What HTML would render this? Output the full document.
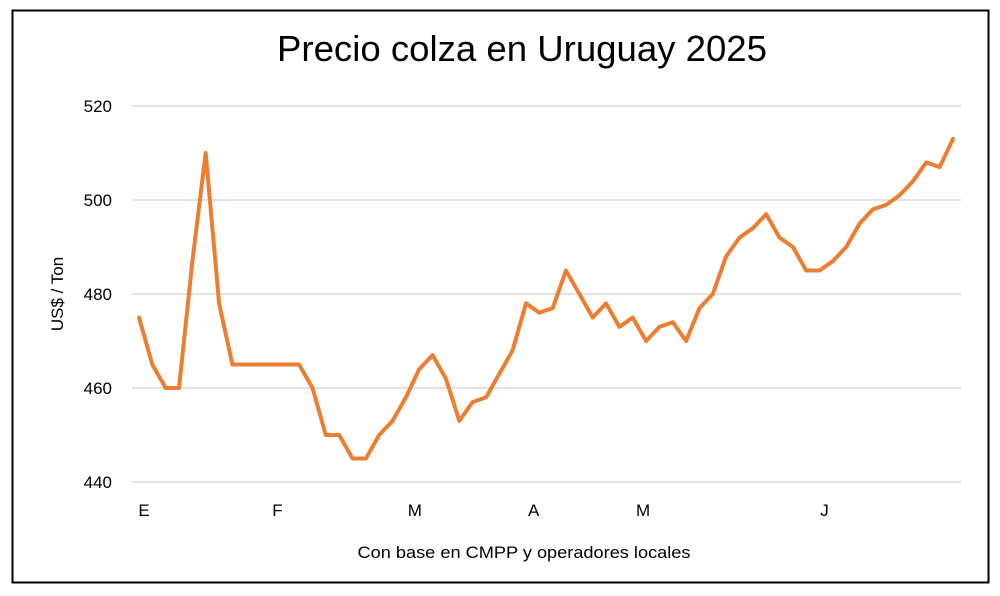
<!DOCTYPE html>
<html><head><meta charset="utf-8"><style>
body{margin:0;background:#fff;font-family:"Liberation Sans",sans-serif}
svg{display:block}
</style></head><body>
<svg width="1000" height="596" viewBox="0 0 1000 596">
<rect x="0" y="0" width="1000" height="596" fill="#fff"/>
<rect x="12.5" y="10.5" width="976" height="572" fill="none" stroke="#000" stroke-width="2"/>
<text x="522" y="61" text-anchor="middle" font-size="36" textLength="490" lengthAdjust="spacingAndGlyphs" fill="#000">Precio colza en Uruguay 2025</text>
<g id="grid"></g><g id="yticks"></g><g id="xticks"></g>
<path id="line" fill="none" stroke="#ED7D31" stroke-width="4" stroke-linejoin="round" stroke-linecap="round"/>
<text transform="translate(63,294) rotate(-90)" text-anchor="middle" font-size="17" fill="#000">US$ / Ton</text>
<text x="524" y="558" text-anchor="middle" font-size="17" textLength="333" lengthAdjust="spacingAndGlyphs" fill="#000">Con base en CMPP y operadores locales</text>
</svg>
<script>
const prices=[475,465,460,460,487,510,478,465,465,465,465,465,465,460,450,450,445,445,450,453,458,464,467,462,453,457,458,463,468,478,476,477,485,480,475,478,473,475,470,473,474,470,477,480,488,492,494,497,492,490,485,485,487,490,495,498,499,501,504,508,507,513];
const yTicks=[440,460,480,500,520];
const monthLabels=["E","F","M","A","M","J"];
const monthIdx=[0,10,20.3,29.2,37.4,51];
const NS="http://www.w3.org/2000/svg";
const x0=139,x1=953,yTop=106,yBot=482,yMin=440,yMax=520;
const xs=i=>x0+(x1-x0)*i/(prices.length-1);
const ys=v=>yBot-(v-yMin)/(yMax-yMin)*(yBot-yTop);
const grid=document.getElementById('grid'),yt=document.getElementById('yticks'),xt=document.getElementById('xticks');
yTicks.forEach(v=>{
 const l=document.createElementNS(NS,'line');
 l.setAttribute('x1',132);l.setAttribute('x2',961);l.setAttribute('y1',ys(v));l.setAttribute('y2',ys(v));
 l.setAttribute('stroke','#d9d9d9');l.setAttribute('stroke-width','1.5');
 
 
 grid.appendChild(l);
 const t=document.createElementNS(NS,'text');
 t.setAttribute('x',112);t.setAttribute('y',ys(v)+6);t.setAttribute('text-anchor','end');t.setAttribute('font-size','17');
 t.textContent=v;
 
 
 yt.appendChild(t);
});
monthLabels.forEach((m,i)=>{
 const t=document.createElementNS(NS,'text');
 t.setAttribute('x',xs(monthIdx[i])+5);t.setAttribute('y',516);t.setAttribute('text-anchor','middle');t.setAttribute('font-size','17');
 t.textContent=m;
 
 
 xt.appendChild(t);
});
document.getElementById('line').setAttribute('d',prices.map((v,i)=>(i?'L':'M')+xs(i).toFixed(1)+' '+ys(v).toFixed(1)).join(' '));
</script>
</body></html>
